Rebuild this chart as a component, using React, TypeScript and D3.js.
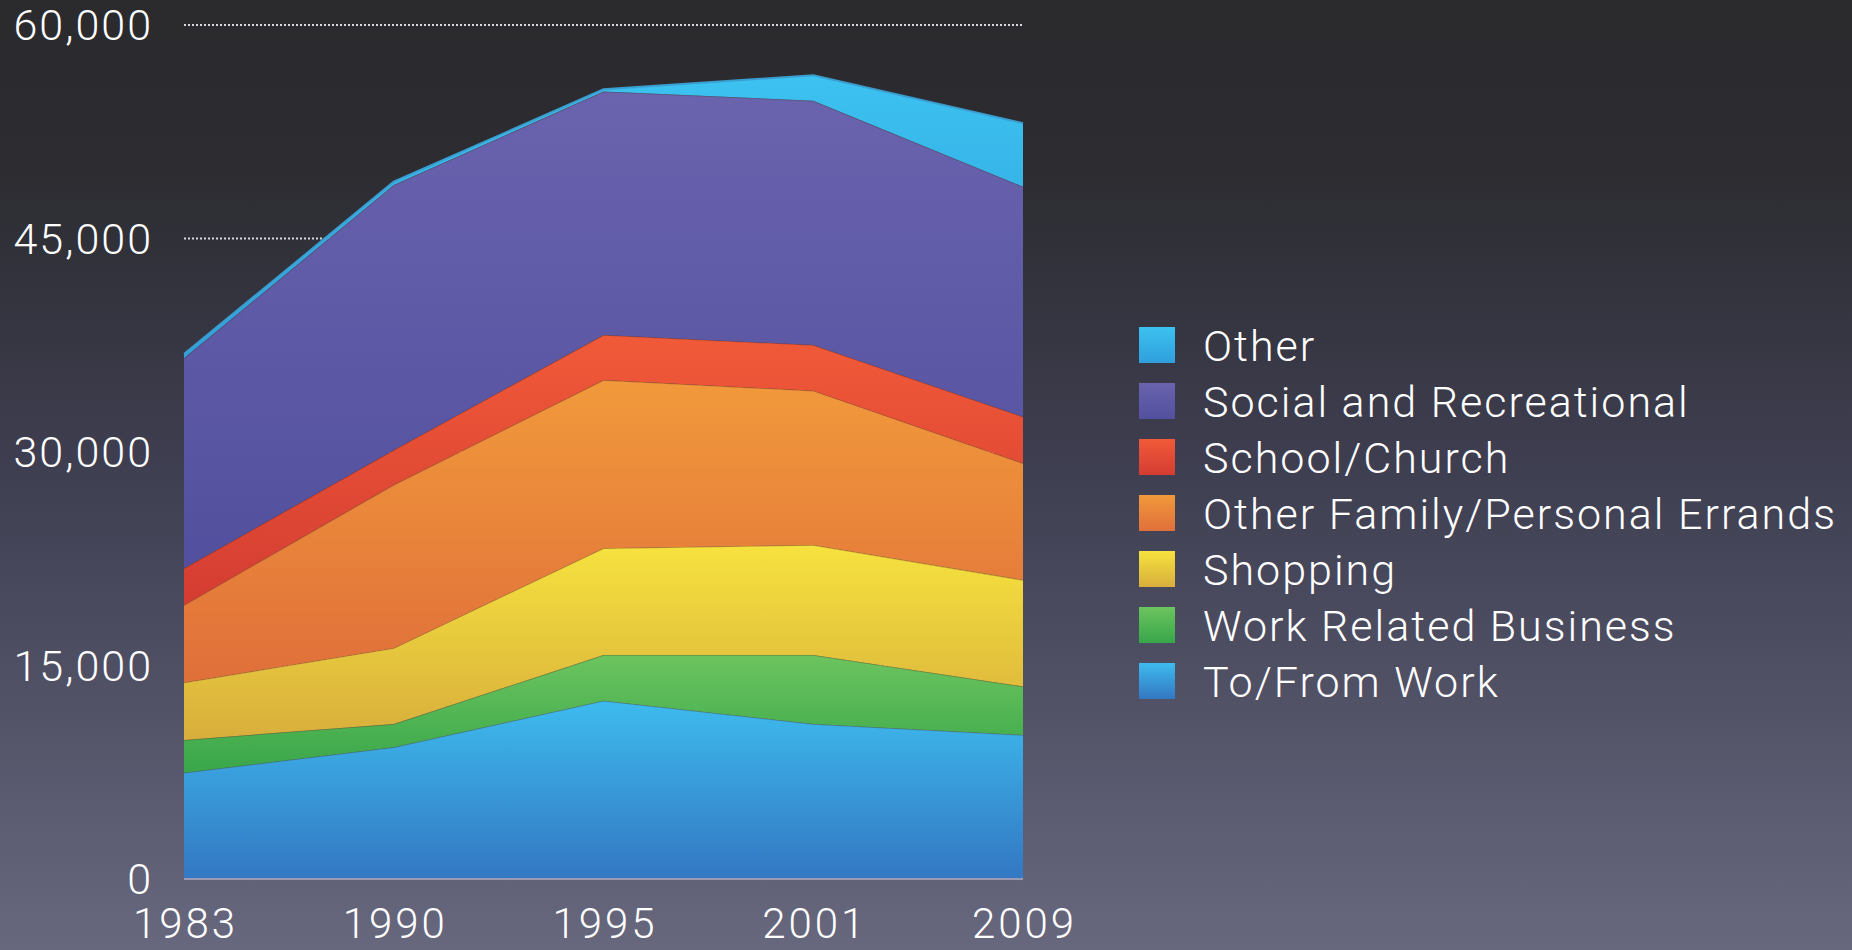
import React from "react";
import * as d3 from "d3";

const years = ["1983", "1990", "1995", "2001", "2009"];
const seriesNames = [
  "To/From Work",
  "Work Related Business",
  "Shopping",
  "Other Family/Personal Errands",
  "School/Church",
  "Social and Recreational",
  "Other",
];
const toFromWork = [7470, 9250, 12530, 10890, 10120];
const workRelated = [2300, 1640, 3210, 4850, 3410];
const shopping = [4030, 5330, 7500, 7730, 7480];
const errands = [5450, 11480, 11820, 10840, 8200];
const schoolChurch = [2580, 2440, 3160, 3210, 3270];
const social = [14750, 18620, 17100, 17160, 16160];
const other = [300, 230, 160, 1790, 4460];
const yTicks = [0, 15000, 30000, 45000, 60000];

const seriesValues = [toFromWork, workRelated, shopping, errands, schoolChurch, social, other];
const topColors = ["#3dbbee", "#6cc45e", "#f6e23e", "#f1993b", "#f15a38", "#6a63ae", "#3cc2f0"];
const bottomColors = ["#3377c2", "#38a64a", "#d8ae3c", "#e06f3a", "#d43c32", "#52509e", "#2f9fdc"];

const W = 1852;
const H = 950;
const FONT = "Roboto, 'Helvetica Neue', 'Liberation Sans', sans-serif";

export default function App() {
  const x = d3.scalePoint<string>().domain(years).range([184, 1023]);
  const y = d3.scaleLinear().domain([0, 60000]).range([879, 25]);

  const table = years.map((yr, i) => {
    const row: any = { year: yr };
    seriesNames.forEach((n, k) => (row[n] = seriesValues[k][i]));
    return row;
  });
  const stacked = d3.stack<any>().keys(seriesNames)(table);
  const area = d3
    .area<any>()
    .x((d) => x(d.data.year) as number)
    .y0((d) => y(d[0]))
    .y1((d) => y(d[1]));
  const topLine = d3
    .line<any>()
    .x((d) => x(d.data.year) as number)
    .y((d) => y(d[1]));

  const legendOrder = [...seriesNames].reverse();

  return (
    <div style={{ position: "fixed", left: 0, top: 0 }}>
      <svg width={W} height={H} style={{ display: "block" }}>
        <defs>
          <linearGradient id="bg" x1="0" y1="0" x2="0" y2="1">
            <stop offset="0" stopColor="#2b2b2e" />
            <stop offset="0.18" stopColor="#2c2c31" />
            <stop offset="0.5" stopColor="#3f3f52" />
            <stop offset="1" stopColor="#67677e" />
          </linearGradient>
          {seriesNames.map((n, k) => (
            <linearGradient key={n} id={`g${k}`} x1="0" y1="0" x2="0" y2="1">
              <stop offset="0" stopColor={topColors[k]} />
              <stop offset="1" stopColor={bottomColors[k]} />
            </linearGradient>
          ))}
        </defs>
        <rect x={0} y={0} width={W} height={H} fill="url(#bg)" />
        {yTicks.map((t) => (
          <line
            key={t}
            x1={184}
            x2={1023}
            y1={y(t)}
            y2={y(t)}
            stroke="#d8d8e0"
            strokeWidth={2}
            strokeDasharray="2,2"
          />
        ))}
        {stacked.map((s, k) => (
          <g key={s.key}>
            <path d={area(s) as string} fill={`url(#g${k})`} />
            <path
              d={topLine(s) as string}
              fill="none"
              stroke={k === 6 ? "#3a9fd0" : "rgba(90,40,30,0.35)"}
              strokeWidth={k === 6 ? 2 : 1.5}
            />
          </g>
        ))}
        <line x1={184} x2={1023} y1={y(0)} y2={y(0)} stroke="#9a9ab0" strokeWidth={2} />
        {yTicks.map((t) => (
          <text
            key={t}
            x={153}
            y={y(t)}
            dy="0.36em"
            textAnchor="end"
            fill="#ffffff"
            fontFamily={FONT}
            fontWeight={300}
            fontSize={43}
            letterSpacing={2}
          >
            {d3.format(",")(t)}
          </text>
        ))}
        {years.map((yr) => (
          <text
            key={yr}
            x={(x(yr) as number) + 1.5}
            y={938}
            textAnchor="middle"
            fill="#ffffff"
            fontFamily={FONT}
            fontWeight={300}
            fontSize={42}
            letterSpacing={3}
          >
            {yr}
          </text>
        ))}
        {legendOrder.map((n, i) => {
          const k = seriesNames.indexOf(n);
          const top = 327 + i * 56;
          return (
            <g key={n}>
              <rect x={1139} y={top} width={36} height={36} fill={`url(#g${k})`} />
              <text
                x={1203}
                y={top + 34}
                fill="#ffffff"
                fontFamily={FONT}
                fontWeight={300}
                fontSize={43}
                letterSpacing={2}
              >
                {n}
              </text>
            </g>
          );
        })}
      </svg>
    </div>
  );
}
